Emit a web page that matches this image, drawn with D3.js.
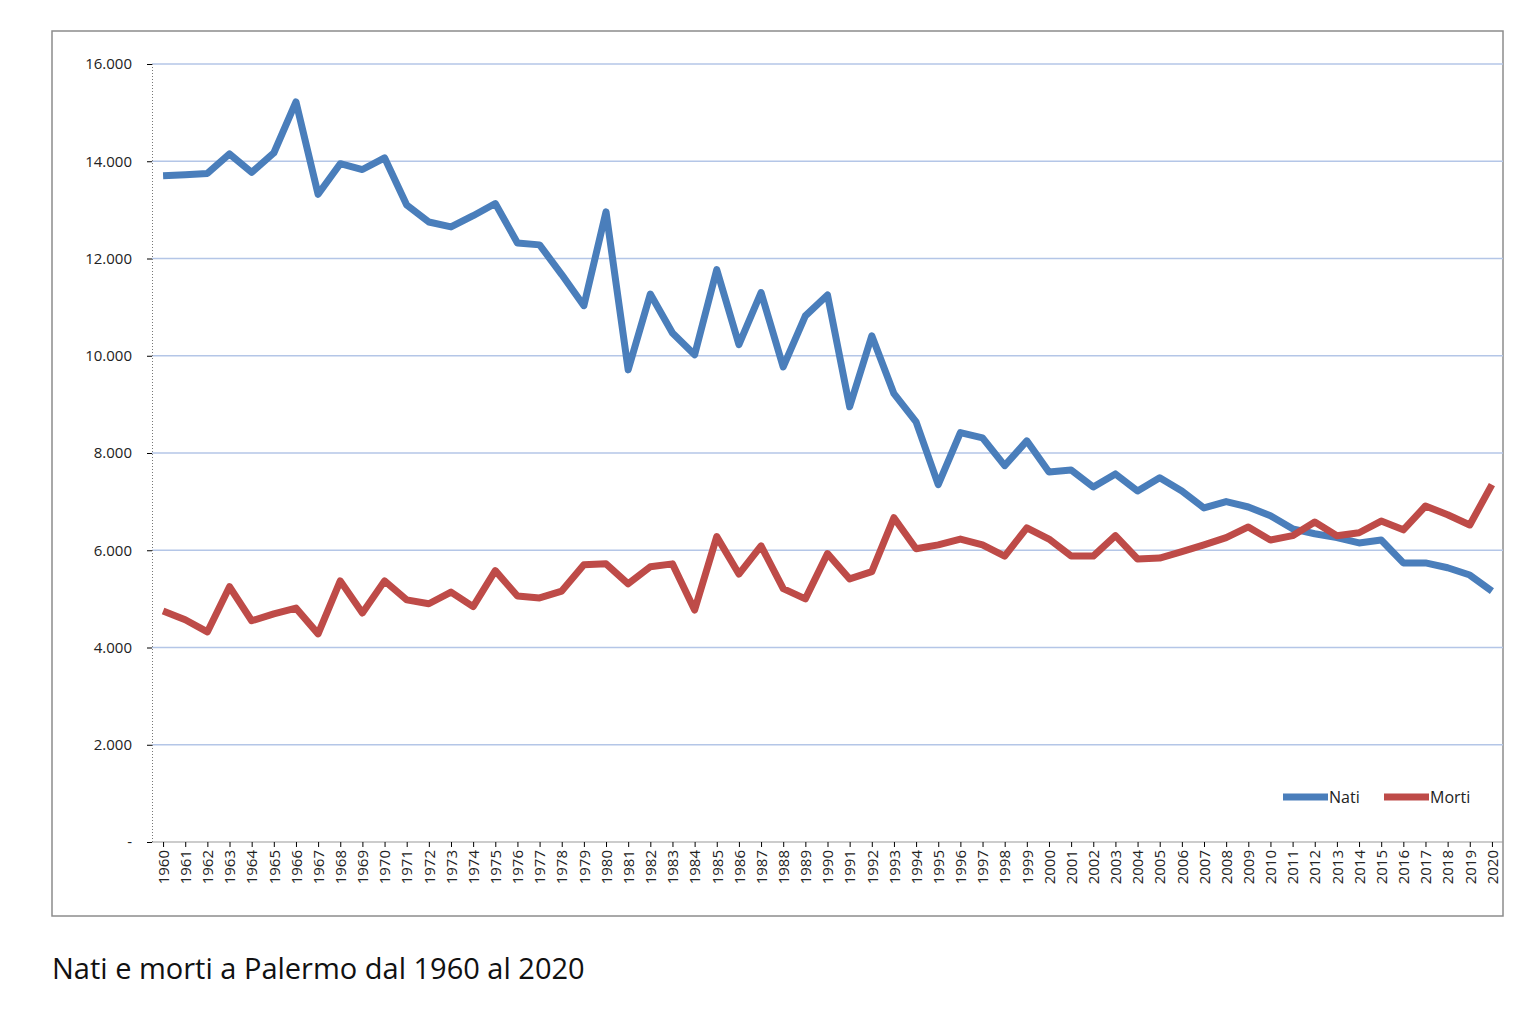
<!DOCTYPE html>
<html><head><meta charset="utf-8">
<script src="https://cdn.jsdelivr.net/npm/d3@7"></script>
<style>body{margin:0;background:#fff;font-family:"Open Sans",Arial,sans-serif}</style>
</head><body>
<script>
// data
var years = d3.range(1960, 2021);
var nati = [13700,13720,13750,14150,13770,14170,15220,13320,13950,13830,14070,13100,12750,12650,12880,13130,12320,12280,11670,11030,12960,9710,11270,10470,10020,11770,10230,11300,9770,10820,11250,8950,10410,9220,8640,7350,8420,8310,7740,8250,7610,7650,7300,7570,7220,7490,7220,6870,7000,6890,6710,6440,6340,6260,6150,6210,5740,5740,5640,5490,5160];
var morti = [4750,4570,4320,5250,4550,4690,4810,4280,5370,4710,5370,4980,4900,5140,4840,5580,5060,5020,5160,5700,5720,5310,5660,5720,4770,6280,5510,6090,5210,5000,5930,5410,5560,6670,6030,6110,6230,6110,5880,6460,6230,5880,5880,6300,5820,5840,5970,6110,6260,6480,6210,6300,6580,6300,6360,6600,6420,6910,6730,6520,7350];
var yTicks = [0,2000,4000,6000,8000,10000,12000,14000,16000];
var seriesNames = ["Nati","Morti"];
var colors = ["#4a7ebb","#be4b48"];

var svg = d3.select("body").append("svg").attr("width",1524).attr("height",1020);
svg.append("rect").attr("x",52).attr("y",31).attr("width",1451).attr("height",885)
  .attr("fill","none").attr("stroke","#8c8c8c").attr("stroke-width",1.5);

var x = d3.scalePoint().domain(years).range([152,1503]).padding(0.5);
var y = d3.scaleLinear().domain([0,16000]).range([842,64]);
var fmt = d3.formatLocale({decimal:",",thousands:".",grouping:[3]}).format(",");

// grid
svg.append("g").selectAll("line").data(yTicks.slice(1)).enter().append("line")
  .attr("x1",152).attr("x2",1503).attr("y1",d=>y(d)).attr("y2",d=>y(d))
  .attr("stroke","#b4c6e7").attr("stroke-width",1.3);
svg.append("line").attr("x1",152).attr("x2",1503).attr("y1",842).attr("y2",842).attr("stroke","#999");

// y axis
var ya = svg.append("g").attr("transform","translate(152,0)")
  .call(d3.axisLeft(y).tickValues(yTicks).tickSize(5).tickFormat(d=>d===0?"-":fmt(d)));
ya.select(".domain").attr("stroke","#777").attr("stroke-dasharray","1,2");
ya.selectAll("text").attr("font-size",15).attr("fill","#222").attr("font-family","Open Sans").attr("dx",-12);

// x axis
var xa = svg.append("g").attr("transform","translate(0,842)")
  .call(d3.axisBottom(x).tickSize(5).tickSizeOuter(0));
xa.select(".domain").remove();
xa.selectAll("text").attr("font-size",15).attr("fill","#222").attr("font-family","Open Sans")
  .attr("transform","rotate(-90)").attr("text-anchor","end").attr("x",-8).attr("y",0).attr("dy","0.35em");

// lines
var line = d3.line().x((d,i)=>x(years[i])).y(d=>y(d));
[nati,morti].forEach(function(s,k){
  svg.append("path").datum(s).attr("d",line).attr("fill","none")
    .attr("stroke",colors[k]).attr("stroke-width",7).attr("stroke-linejoin","round");
});

// legend
var lg = svg.append("g").attr("transform","translate(1283,797)");
seriesNames.forEach(function(n,k){
  var g = lg.append("g").attr("transform","translate("+(k*101)+",0)");
  g.append("line").attr("x1",0).attr("x2",45).attr("stroke",colors[k]).attr("stroke-width",7);
  g.append("text").attr("x",46).attr("dy","0.35em").attr("font-size",16).attr("fill","#222").text(n);
});

svg.append("text").attr("x",52).attr("y",979).attr("font-size",29).attr("fill","#111").text("Nati e morti a Palermo dal 1960 al 2020");
</script>
</body></html>
